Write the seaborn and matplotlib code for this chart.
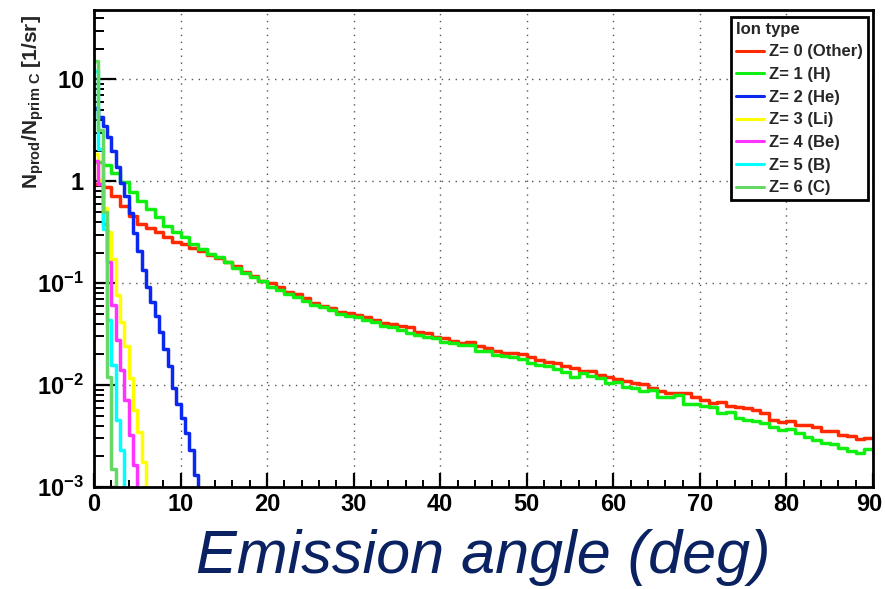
import numpy as np
import pandas as pd
import matplotlib
matplotlib.use("Agg")
import matplotlib.pyplot as plt
import matplotlib.transforms as mtransforms
from matplotlib.ticker import MultipleLocator, NullFormatter, LogLocator
import seaborn as sns

# ---------------- data ----------------
ion_labels = ["Z= 0 (Other)", "Z= 1 (H)", "Z= 2 (He)", "Z= 3 (Li)",
              "Z= 4 (Be)", "Z= 5 (B)", "Z= 6 (C)"]
ion_colors = ["#ff2a00", "#11ee11", "#0a28f0", "#ffff00",
              "#ff33ff", "#00ffff", "#66d866"]

# bin widths (deg) of each histogram
bin_width = [1.0, 1.0, 0.5, 0.5, 0.5, 0.5, 0.5]

z0_other = [0.933, 0.871, 0.711, 0.566, 0.452, 0.385, 0.352, 0.315, 0.287, 0.256,
            0.240, 0.224, 0.205, 0.191, 0.177, 0.163, 0.146, 0.130, 0.119, 0.106,
            0.101, 0.0927, 0.0826, 0.0791, 0.0721, 0.0644, 0.0603, 0.0575, 0.0526, 0.0514,
            0.0491, 0.0470, 0.0439, 0.0410, 0.0401, 0.0383, 0.0374, 0.0334, 0.0327, 0.0299,
            0.0292, 0.0273, 0.0261, 0.0267, 0.0243, 0.0233, 0.0217, 0.0208, 0.0208, 0.0203,
            0.0190, 0.0177, 0.0169, 0.0166, 0.0155, 0.0148, 0.0138, 0.0138, 0.0126, 0.0121,
            0.0115, 0.0110, 0.0105, 0.0103, 0.00940, 0.00879, 0.00839, 0.00839, 0.00830, 0.00767,
            0.00716, 0.00670, 0.00676, 0.00625, 0.00612, 0.00598, 0.00571, 0.00535, 0.00456, 0.00436,
            0.00446, 0.00407, 0.00407, 0.00389, 0.00356, 0.00356, 0.00325, 0.00317, 0.00296, 0.00303]

z1_h = [1.53, 1.43, 1.22, 0.975, 0.778, 0.634, 0.530, 0.442, 0.361, 0.315,
        0.281, 0.240, 0.219, 0.195, 0.179, 0.160, 0.142, 0.127, 0.116, 0.104,
        0.0927, 0.0865, 0.0791, 0.0738, 0.0675, 0.0617, 0.0589, 0.0550, 0.0502, 0.0480,
        0.0470, 0.0439, 0.0419, 0.0383, 0.0374, 0.0350, 0.0327, 0.0313, 0.0299, 0.0292,
        0.0267, 0.0261, 0.0249, 0.0249, 0.0217, 0.0217, 0.0199, 0.0194, 0.0190, 0.0182,
        0.0166, 0.0158, 0.0155, 0.0145, 0.0135, 0.0121, 0.0132, 0.0123, 0.0118, 0.0105,
        0.0108, 0.00962, 0.00940, 0.00879, 0.00900, 0.00767, 0.00767, 0.00804, 0.00655, 0.00655,
        0.00625, 0.00612, 0.00535, 0.00546, 0.00476, 0.00456, 0.00446, 0.00426, 0.00389, 0.00363,
        0.00371, 0.00340, 0.00311, 0.00290, 0.00271, 0.00265, 0.00241, 0.00226, 0.00216, 0.00237]

z2_he = [5.2, 4.25, 3.47, 2.70, 1.97, 1.37, 0.953, 0.711, 0.494, 0.308,
         0.205, 0.136, 0.0927, 0.0659, 0.0480, 0.0334, 0.0228, 0.0155, 0.0094, 0.00655,
         0.00476, 0.00340, 0.00231, 0.00131]

z3_li = [1.84, 1.04, 0.553, 0.315, 0.171, 0.0773, 0.0419, 0.0243, 0.0118, 0.00571,
         0.00348, 0.00176]

z4_be = [1.57, 0.933, 0.377, 0.163, 0.0617, 0.0279, 0.0141, 0.00716, 0.00325, 0.00164]

z5_b = [12.0, 2.06, 0.337, 0.0439, 0.0158, 0.00456, 0.00231]

z6_c = [15.0, 3.2, 0.5, 0.012, 0.0015]

empty_bin = 1e-6   # content of the first empty bin after a histogram ends

series = [z0_other, z1_h, z2_he, z3_li, z4_be, z5_b, z6_c]

x_max = 90
y_min, y_max = 1e-3, 48
y_major = [1e-3, 1e-2, 1e-1, 1, 10]
y_major_labels = [r"$\mathbf{10^{-3}}$", r"$\mathbf{10^{-2}}$", r"$\mathbf{10^{-1}}$",
                  r"$\mathbf{1}$", r"$\mathbf{10}$"]
x_major = list(range(0, 91, 10))

# ---------------- build long table of step histograms ----------------
rows = []
for lab, w, vals in zip(ion_labels, bin_width, series):
    edges = np.arange(len(vals) + 1) * w
    for e, v in zip(edges[:-1], vals):
        rows.append((lab, e, v))
    rows.append((lab, edges[-1], vals[-1]))
    if edges[-1] < x_max:
        rows.append((lab, edges[-1], empty_bin))
df = pd.DataFrame(rows, columns=["ion", "angle", "value"])

# ---------------- plotting ----------------
sns.set_theme(style="white")
plt.rcParams["font.family"] = ["Liberation Sans", "DejaVu Sans"]
plt.rcParams["mathtext.fontset"] = "custom"
plt.rcParams["mathtext.rm"] = "Liberation Sans"
plt.rcParams["mathtext.bf"] = "Liberation Sans:bold"
plt.rcParams["mathtext.it"] = "Liberation Sans:italic"

fig = plt.figure(figsize=(8.85, 5.89), dpi=100)
ax = fig.add_axes([94 / 885, 1 - 487 / 589, 779 / 885, 477 / 589])

sns.lineplot(data=df, x="angle", y="value", hue="ion", hue_order=ion_labels,
             palette=dict(zip(ion_labels, ion_colors)), estimator=None, sort=False,
             drawstyle="steps-post", linewidth=2.5, ax=ax)

ax.set_yscale("log")
ax.set_xlim(0, x_max)
ax.set_ylim(y_min, y_max)

ax.set_yticks(y_major, y_major_labels)
ax.yaxis.set_minor_locator(LogLocator(base=10, subs=np.arange(2, 10)))
ax.yaxis.set_minor_formatter(NullFormatter())
ax.set_xticks(x_major, [str(v) for v in x_major])
ax.xaxis.set_minor_locator(MultipleLocator(2))

ax.tick_params(axis="both", which="both", direction="in", colors="black",
               top=False, right=False, left=True, bottom=True)
ax.tick_params(axis="y", which="major", length=16, width=1.6, labelsize=17, pad=7)
ax.tick_params(axis="y", which="minor", length=7, width=1.4)
ax.tick_params(axis="x", which="major", length=10, width=1.6, labelsize=17, pad=4)
ax.tick_params(axis="x", which="minor", length=5, width=1.4)

xticklabels = ax.get_xticklabels()
for lbl in xticklabels:
    lbl.set_fontweight("bold")
# keep the last label ("90") inside the canvas, as in the reference
xticklabels[-1].set_transform(xticklabels[-1].get_transform() +
                              mtransforms.ScaledTranslation(-4 / 100, 0, fig.dpi_scale_trans))

ax.grid(True, which="major", color="#555555", linestyle=(0, (1, 4)), linewidth=1.0)
ax.set_axisbelow(True)
for sp in ax.spines.values():
    sp.set_visible(True)
    sp.set_color("black")
    sp.set_linewidth(2.0)

ax.set_ylabel(r"$\mathbf{N_{prod}/N_{prim\ C}\ [1/sr]}$", fontsize=15, va="center")
ax.yaxis.set_label_coords(-0.078, 0.807)
ax.set_xlabel("Emission angle (deg)", fontsize=44, style="italic",
              color="#0a2262", va="baseline")
ax.xaxis.set_label_coords(0.5, -0.180)

handles, labels = ax.get_legend_handles_labels()
leg = ax.legend(handles, labels, title="Ion type", loc="upper right",
                bbox_to_anchor=(0.994, 0.986), borderaxespad=0.0,
                frameon=True, fancybox=False,
                framealpha=1, edgecolor="black", handlelength=1.65,
                handletextpad=0.35, labelspacing=0.46, borderpad=0.3,
                prop={"weight": "bold", "size": 12},
                title_fontproperties={"weight": "bold", "size": 12},
                alignment="left")
leg.get_frame().set_linewidth(2.0)
for ln in leg.get_lines():
    ln.set_linewidth(2.2)

fig.savefig("out.png", dpi=100)
